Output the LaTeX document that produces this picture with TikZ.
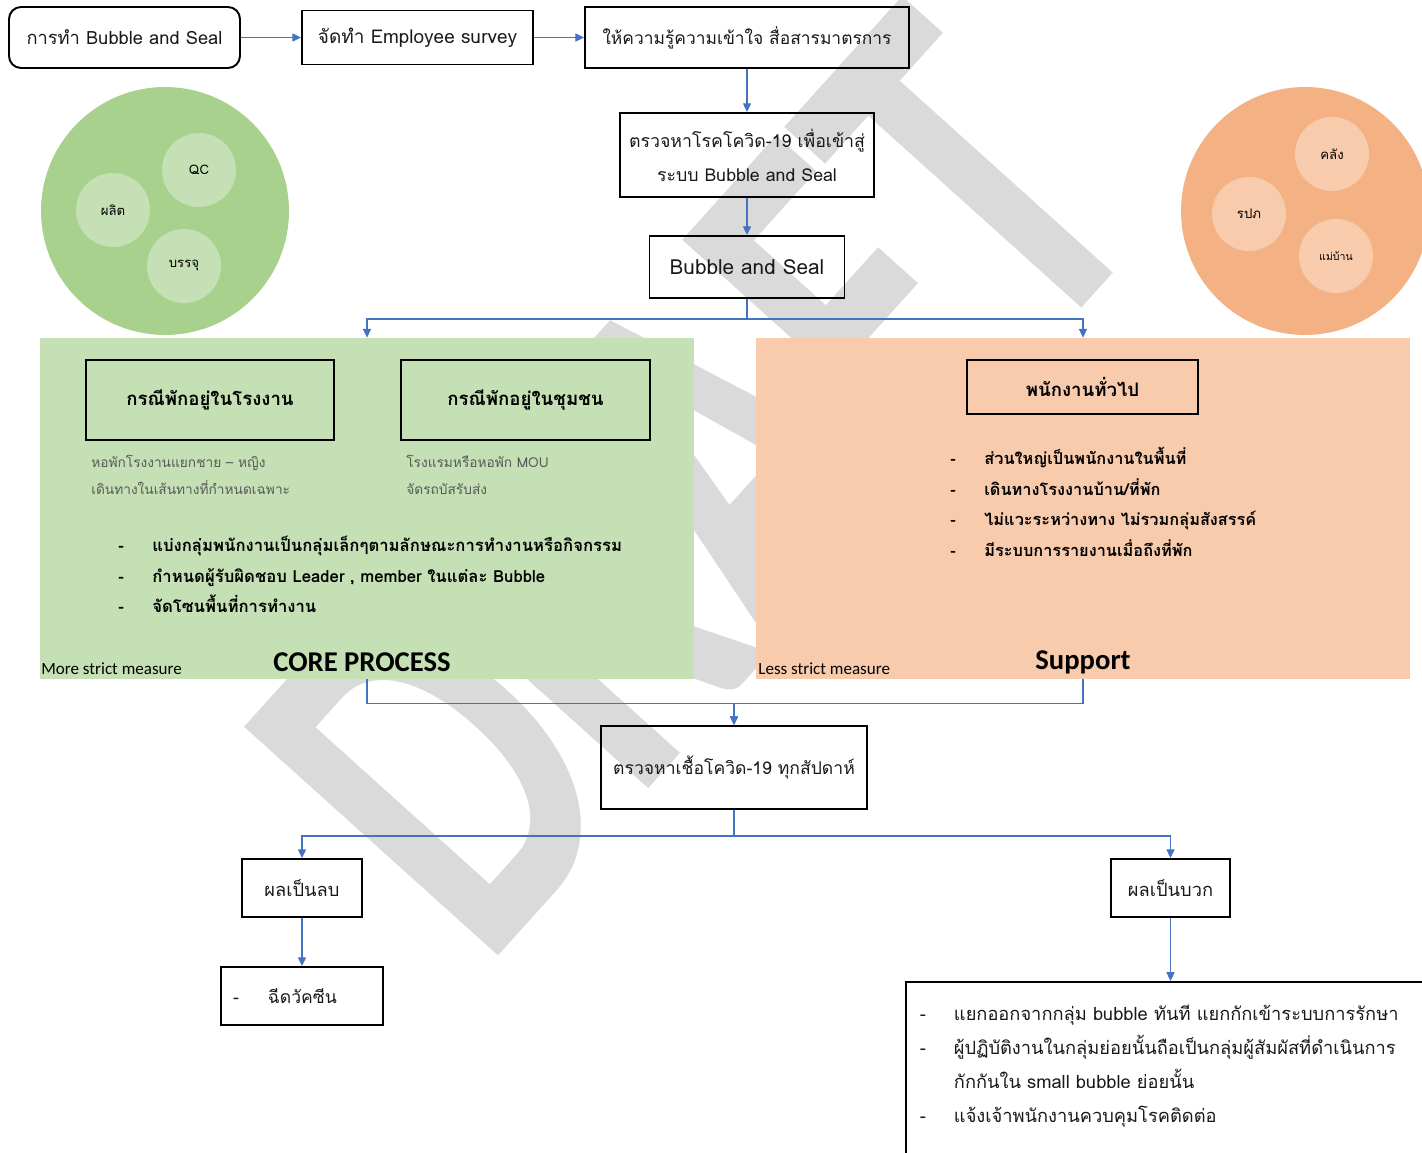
\documentclass[tikz,border=0pt]{standalone}
\usepackage{fontspec}
\setmainfont[Script=Thai]{Loma}
\newfontfamily\latinfont{Carlito}
\usetikzlibrary{positioning,arrows.meta}

\definecolor{flowblue}{HTML}{4472C4}
\definecolor{greendark}{HTML}{A9D18E}
\definecolor{greenlight}{HTML}{C5E0B4}
\definecolor{orangedark}{HTML}{F4B183}
\definecolor{orangelight}{HTML}{F8CBAD}
\definecolor{draftgray}{HTML}{DADADA}
\definecolor{notegray}{HTML}{595959}

\newcommand{\dashitem}[1]{\makebox[0.68cm][l]{-}#1}

\tikzset{
	flowbox/.style={draw=black, line width=1.1pt, inner sep=0pt, align=center, text=black!90,
		font=\fontsize{10.4}{19.3}\selectfont},
	headbox/.style={draw=black, line width=1.1pt, inner sep=0pt, align=center,
		font=\bfseries\fontsize{10.6}{14}\selectfont},
	flow/.style={draw=flowblue, line width=0.7pt, -{Triangle[length=5pt,width=4.6pt]}},
	panel/.style={inner sep=0pt, minimum width=13.08cm, minimum height=6.82cm},
	bigbubble/.style={circle, inner sep=0pt, minimum size=4.96cm},
	smallbubble/.style={circle, inner sep=0pt, minimum size=1.48cm, font=\fontsize{7.5}{9}\selectfont},
	note/.style={anchor=west, align=left, inner sep=0pt, text=notegray, font=\fontsize{7.8}{15.3}\selectfont},
	bullets/.style={anchor=west, align=left, inner sep=0pt, font=\bfseries\fontsize{9.5}{17.4}\selectfont},
	strictness/.style={anchor=base west, inner sep=0pt, font=\latinfont\fontsize{9.7}{12}\selectfont},
	paneltitle/.style={anchor=base, inner sep=0pt, font=\latinfont\bfseries\fontsize{16.3}{18}\selectfont},
	draftmark/.style={anchor=base west, inner sep=0pt, rotate=48, text=draftgray,
		font=\latinfont\bfseries\fontsize{300}{300}\selectfont}
}

\begin{document}
\begin{tikzpicture}[x=0.02cm,y=-0.02cm]
	\useasboundingbox (0,0) rectangle (1422,1152);
	\clip (0,0) rectangle (1422,1152);
	
	% watermark
	\node[draftmark] (draft) at (484,972) {\scalebox{0.7}[1]{D\kern-0.02em RAFT}};
	
	% bubbles
	\node[bigbubble, fill=greendark] (corebubble) at (165,211) {};
	\node[smallbubble, fill=greenlight] (qc) at (199,170) {QC};
	\node[smallbubble, fill=greenlight] (produce) at (113,210) {ผลิต};
	\node[smallbubble, fill=greenlight] (pack) at (184,266) {บรรจุ};
	
	\node[bigbubble, fill=orangedark] (supportbubble) at (1305,211) {};
	\node[smallbubble, fill=orangelight] (store) at (1332,154) {คลัง};
	\node[smallbubble, fill=orangelight] (guard) at (1249,214) {รปภ};
	\node[smallbubble, fill=orangelight, font=\fontsize{6}{8}\selectfont] (maid) at (1336,256) {แม่บ้าน};
	
	% top row
	\node[flowbox, rounded corners=0.24cm, minimum width=4.62cm, minimum height=1.22cm] (start) at (124.5,37.5) {การทำ Bubble and Seal};
	\node[flowbox, minimum width=4.62cm, minimum height=1.08cm, font=\fontsize{10.8}{13}\selectfont] (survey) at (417.5,37.5) {จัดทำ Employee survey};
	\node[flowbox, minimum width=6.48cm, minimum height=1.22cm, font=\fontsize{9.9}{13}\selectfont] (inform) at (747,37.5) {ให้ความรู้ความเข้าใจ สื่อสารมาตรการ};
	\node[flowbox, minimum width=5.08cm, minimum height=1.68cm, font=\fontsize{10.1}{19.3}\selectfont] (screening) at (747,155) {ตรวจหาโรคโควิด-19 เพื่อเข้าสู่\\ระบบ Bubble and Seal};
	\node[flowbox, minimum width=3.9cm, minimum height=1.24cm, font=\fontsize{11.8}{15}\selectfont] (bubbleseal) at (747,267) {Bubble and Seal};
	
	% core process panel
	\node[panel, fill=greenlight] (corepanel) at (367,508.5) {};
	\node[headbox, minimum width=4.96cm, minimum height=1.6cm] (factorystay) at (210,400) {กรณีพักอยู่ในโรงงาน};
	\node[headbox, minimum width=4.98cm, minimum height=1.6cm] (communitystay) at (525.5,400) {กรณีพักอยู่ในชุมชน};
	\node[note] (factorynote) at (91,474.5) {หอพักโรงงานแยกชาย – หญิง\\เดินทางในเส้นทางที่กำหนดเฉพาะ};
	\node[note] (communitynote) at (406,474.5) {โรงแรมหรือหอพัก MOU\\จัดรถบัสรับส่ง};
	\node[bullets] (corelist) at (118,574.5) {\dashitem{แบ่งกลุ่มพนักงานเป็นกลุ่มเล็กๆตามลักษณะการทำงานหรือกิจกรรม}\\
		\dashitem{กำหนดผู้รับผิดชอบ Leader , member ในแต่ละ Bubble}\\
		\dashitem{จัดโซนพื้นที่การทำงาน}};
	\node[strictness] (morestrict) at (41,674) {More strict measure};
	\node[paneltitle] (coretitle) at (362,671) {CORE PROCESS};
	
	% support panel
	\node[panel, fill=orangelight] (supportpanel) at (1083,508.5) {};
	\node[headbox, minimum width=4.62cm, minimum height=1.08cm] (generalstaff) at (1082.5,387) {พนักงานทั่วไป};
	\node[bullets, font=\bfseries\fontsize{9.3}{17.4}\selectfont] (supportlist) at (950,502) {\dashitem{ส่วนใหญ่เป็นพนักงานในพื้นที่}\\
		\dashitem{เดินทางโรงงานบ้าน/ที่พัก}\\
		\dashitem{ไม่แวะระหว่างทาง ไม่รวมกลุ่มสังสรรค์}\\
		\dashitem{มีระบบการรายงานเมื่อถึงที่พัก}};
	\node[strictness] (lessstrict) at (758,674) {Less strict measure};
	\node[paneltitle] (supporttitle) at (1083,669) {Support};
	
	% weekly test and results
	\node[flowbox, minimum width=5.32cm, minimum height=1.66cm, font=\fontsize{10}{13}\selectfont] (weeklytest) at (734,767.5) {ตรวจหาเชื้อโควิด-19 ทุกสัปดาห์};
	\node[flowbox, minimum width=2.4cm, minimum height=1.16cm] (negative) at (302,888) {ผลเป็นลบ};
	\node[flowbox, minimum width=3.24cm, minimum height=1.16cm, align=left, inner xsep=0.24cm, text width=2.76cm, font=\fontsize{10}{13}\selectfont] (vaccine) at (302,996) {\makebox[0.7cm][l]{-}ฉีดวัคซีน};
	\node[flowbox, minimum width=2.38cm, minimum height=1.16cm] (positive) at (1170.5,888) {ผลเป็นบวก};
	\node[flowbox, anchor=north west, align=left, inner xsep=0.28cm, inner ysep=0.46cm] (isolate) at (905,981)
		{\parbox[t][4cm][t]{10.4cm}{\dashitem{แยกออกจากกลุ่ม bubble ทันที แยกกักเข้าระบบการรักษา}\\
		\dashitem{ผู้ปฏิบัติงานในกลุ่มย่อยนั้นถือเป็นกลุ่มผู้สัมผัสที่ดำเนินการ}\\
		\hspace*{0.68cm}กักกันใน small bubble ย่อยนั้น\\
		\dashitem{แจ้งเจ้าพนักงานควบคุมโรคติดต่อ}}};
	
	% connectors
	\draw[flow] (start) -- (survey);
	\draw[flow] (survey) -- (inform);
	\draw[flow] (inform) -- (screening);
	\draw[flow] (screening) -- (bubbleseal);
	\draw[flow] (bubbleseal.south) -- ++(0,20) -| (corepanel.north);
	\draw[flow] (bubbleseal.south) -- ++(0,20) -| (supportpanel.north);
	\draw[flow] (corepanel.south) -- ++(0,24) -| (weeklytest.north);
	\draw[flow] (supportpanel.south) -- ++(0,24) -| (weeklytest.north);
	\draw[flow] (weeklytest.south) -- ++(0,26) -| (negative.north);
	\draw[flow] (weeklytest.south) -- ++(0,26) -| (positive.north);
	\draw[flow] (negative) -- (vaccine);
	\draw[flow] (positive) -- (positive |- isolate.north);
\end{tikzpicture}
\end{document}
